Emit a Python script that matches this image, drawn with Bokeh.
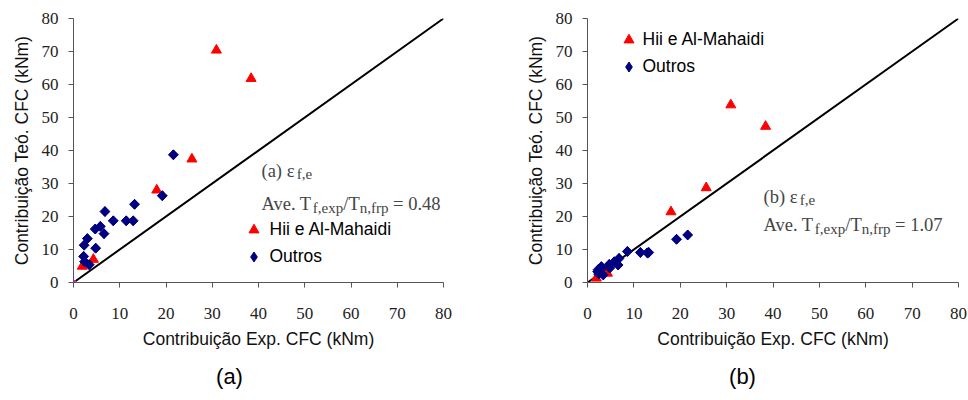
import math
from bokeh.plotting import figure
from bokeh.models import Label, Legend, LegendItem, Range1d, FixedTicker, ColumnDataSource, Title
from bokeh.layouts import row
from bokeh.embed import file_html
from bokeh.resources import INLINE

# ---------------- data ----------------
ticks = [0, 10, 20, 30, 40, 50, 60, 70, 80]
ref_line = [0, 80]

hii_x = [1.9, 4.3, 18.0, 25.6, 30.9, 38.4]
hii_y_a = [4.9, 7.0, 28.0, 37.4, 70.4, 61.8]
hii_y_b = [1.3, 2.8, 21.4, 28.7, 53.8, 47.3]

outros_x = [21.6, 19.2, 13.2, 12.9, 11.4, 8.6, 6.8, 6.6, 5.8, 4.7, 4.8, 3.0, 2.3, 2.2, 2.4, 3.4]
outros_y_a = [38.7, 26.3, 23.7, 18.7, 18.7, 18.7, 21.5, 14.8, 17.0, 16.2, 10.4, 13.3, 11.3, 7.9, 6.3, 5.4]
outros_y_b = [14.4, 13.1, 9.1, 9.0, 9.1, 9.4, 7.3, 5.3, 6.3, 5.5, 4.4, 4.8, 3.9, 3.3, 2.6, 2.3]

origin_x = [0]
origin_y = [0]

series_names = ["Hii e Al-Mahaidi", "Outros"]
panel_tags = ["(a)", "(b)"]
ave_values = ["0.48", "1.07"]
x_title = "Contribuição Exp. CFC (kNm)"
y_title = "Contribuição Teó. CFC (kNm)"

# ---------------- layout constants ----------------
FIG_W, FIG_H = 484, 400
FRAME_H = 264
TOP = 18
SERIF = "Liberation Serif"
SANS = "Liberation Sans"
NOTE_COLOR = "#454545"
AXIS_COLOR = "#555555"
RED = "#ff0000"
NAVY = "#000080"

TIMES_W = {'A': .722, 'v': .5, 'e': .444, '.': .25, ' ': .25, 'T': .611, 'f': .333,
           ',': .25, 'x': .5, 'p': .5, '/': .278, 'n': .5, 'r': .333, '=': .564,
           '0': .5, '1': .5, '4': .5, '7': .5, '8': .5, '(': .333, ')': .333,
           'a': .444, 'b': .5, 'ε': .44}


def make_panel(page_left, border_left, frame_w, hii_y, outros_y, tag, ave, note_x,
               line1_base, line2_base, glyph_cx, first_row_cy, standoff, caption_x,
               show_origin):
    border_right = FIG_W - border_left - frame_w
    frame_left = page_left + border_left
    sx = frame_w / 80.0
    sy = FRAME_H / 80.0
    frame_bottom = TOP + FRAME_H

    def dx(X):
        return (X - frame_left) / sx

    def dy(Y):
        return (frame_bottom - Y) / sy

    p = figure(width=FIG_W, height=FIG_H, output_backend="svg", toolbar_location=None,
               x_range=Range1d(0, 80), y_range=Range1d(0, 80),
               min_border_left=border_left, min_border_right=border_right,
               min_border_top=TOP, min_border_bottom=FIG_H - TOP - FRAME_H)
    p.outline_line_color = None
    p.xgrid.visible = False
    p.ygrid.visible = False
    p.background_fill_color = "white"
    p.border_fill_color = "white"

    p.xaxis.ticker = FixedTicker(ticks=ticks)
    p.yaxis.ticker = FixedTicker(ticks=ticks)
    p.axis.minor_tick_line_color = None
    p.axis.major_tick_in = 0
    p.axis.major_tick_out = 5
    p.axis.axis_line_color = AXIS_COLOR
    p.axis.major_tick_line_color = AXIS_COLOR
    p.axis.major_label_text_font = SERIF
    p.axis.major_label_text_font_size = "17px"
    p.axis.major_label_text_color = "#222222"
    p.axis.axis_label_text_font = SANS
    p.axis.axis_label_text_font_size = "17.5px"
    p.axis.axis_label_text_font_style = "normal"
    p.axis.axis_label_text_color = "#111111"
    p.xaxis.axis_label = x_title
    p.yaxis.axis_label = y_title
    p.xaxis.major_label_standoff = 20
    p.xaxis.axis_label_standoff = 7
    p.yaxis.major_label_standoff = 10
    p.yaxis.axis_label_standoff = 7

    p.line(ref_line, ref_line, line_color="black", line_width=2)

    if show_origin:
        p.scatter(origin_x, origin_y, marker="square", size=4, color="#ff00ff")

    src_h = ColumnDataSource(dict(x=hii_x, y=hii_y))
    src_o = ColumnDataSource(dict(x=outros_x, y=outros_y))
    r_h = p.scatter("x", "y", source=src_h, marker="triangle", size=10,
                    fill_color=RED, line_color=RED)
    # diamond renderer (used for the legend key); lies inside the rotated squares below
    r_o_key = p.scatter("x", "y", source=src_o, marker="diamond", size=9.6,
                        fill_color=NAVY, line_color=NAVY)
    p.scatter("x", "y", source=src_o, marker="square", size=7, angle=math.pi / 4,
              fill_color=NAVY, line_color=NAVY)

    gw, gh = 25, 27
    legend_bottom = first_row_cy - gh / 2 + 2 * gh
    legend = Legend(items=[LegendItem(label=series_names[0], renderers=[r_h]),
                           LegendItem(label=series_names[1], renderers=[r_o_key])],
                    location=(glyph_cx - gw / 2 - frame_left, frame_bottom - legend_bottom),
                    glyph_width=gw, glyph_height=gh, spacing=0, padding=0, margin=0,
                    label_standoff=standoff, label_text_font=SANS, label_text_font_size="17.5px",
                    label_text_color="black", label_height=gh,
                    border_line_color=None, background_fill_alpha=0)
    p.add_layout(legend, "center")

    def rich(X0, Ybase, parts):
        cur = X0
        for text, size, shift, gap in parts:
            cur += gap
            p.add_layout(Label(x=dx(cur), y=dy(Ybase + shift), text=text,
                               text_font=SERIF, text_font_size=f"{size}px",
                               text_color=NOTE_COLOR, text_align="left",
                               text_baseline="alphabetic"))
            cur += sum(TIMES_W.get(c, .5) for c in text) * size

    M, S = 18.5, 15
    rich(note_x, line1_base, [(tag, M, 0, 0), ("ε", M, 0, 0.25 * M), ("f,e", S, 3.5, 2)])
    rich(note_x, line2_base, [("Ave. T", M, 0, 0), ("f,exp", S, 3.5, 0), ("/T", M, 0, 0),
                              ("n,frp", S, 3.5, 0), ("= " + ave, M, 0, 0.25 * M)])

    cap_w = 1.222 * 22
    p.add_layout(Title(text=tag, align="left", offset=caption_x - cap_w / 2 - frame_left,
                       text_font=SANS, text_font_size="22px", text_font_style="normal",
                       text_color="black", standoff=20), "below")
    return p


pa = make_panel(0, 73, 370, hii_y_a, outros_y_a, panel_tags[0], ave_values[0], 261,
                170, 203.5, 253, 229, 4, 229, True)
pb = make_panel(484, 103, 371, hii_y_b, outros_y_b, panel_tags[1], ave_values[1], 763,
                196, 224.5, 628, 39, 2, 742, False)

layout = row(pa, pb, spacing=0)
open("out.html", "w").write(file_html(layout, INLINE))
